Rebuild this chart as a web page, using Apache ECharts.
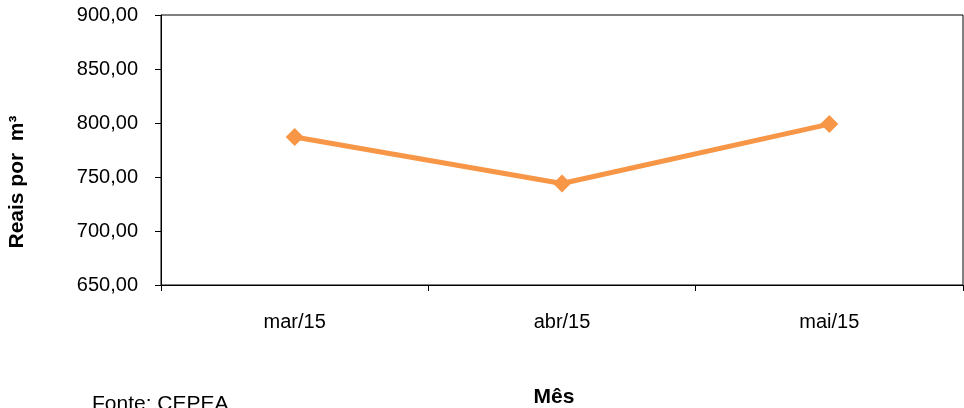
<!DOCTYPE html>
<html>
<head>
<meta charset="utf-8">
<script src="https://cdn.jsdelivr.net/npm/echarts@6/dist/echarts.min.js"></script>
<style>html,body{margin:0;padding:0;background:#fff}#c{width:964px;height:408px}</style>
</head>
<body>
<div id="c"></div>
<script>
const categories = ['mar/15', 'abr/15', 'mai/15'];
const values = [787, 744, 799];
const yTicks = [650, 700, 750, 800, 850, 900];

const FONT = '"Liberation Sans", Arial, sans-serif';
const chart = echarts.init(document.getElementById('c'), null, {renderer: 'canvas'});
chart.setOption({
  animation: false,
  backgroundColor: '#ffffff',
  grid: {left: 161, right: 1, top: 15, bottom: 123, show: true, borderColor: '#000', borderWidth: 1, backgroundColor: 'transparent'},
  xAxis: {
    type: 'category',
    data: categories,
    boundaryGap: true,
    axisLine: {lineStyle: {color: '#000', width: 1}},
    axisTick: {show: true, inside: false, length: 6, lineStyle: {color: '#000'}},
    axisLabel: {color: '#000', fontSize: 20, fontFamily: FONT, margin: 27},
    splitLine: {show: false}
  },
  yAxis: {
    type: 'value',
    min: yTicks[0],
    max: yTicks[yTicks.length - 1],
    interval: 50,
    axisLine: {show: true, lineStyle: {color: '#000', width: 1}},
    axisTick: {show: true, inside: false, length: 6, lineStyle: {color: '#000'}},
    axisLabel: {color: '#000', fontSize: 20, fontFamily: FONT, margin: 23,
      formatter: v => v.toFixed(2).replace('.', ',')},
    splitLine: {show: false}
  },
  graphic: [
    {type: 'text', x: 17, y: 182, rotation: Math.PI / 2,
     style: {text: 'Reais por  m³', font: 'bold 21px ' + FONT, fill: '#000', textAlign: 'center', textVerticalAlign: 'middle'}},
    {type: 'text', x: 554, y: 397,
     style: {text: 'Mês', font: 'bold 21px ' + FONT, fill: '#000', textAlign: 'center', textVerticalAlign: 'middle'}},
    {type: 'text', x: 92, y: 394,
     style: {text: 'Fonte: CEPEA', font: '21px ' + FONT, fill: '#000', textAlign: 'left', textVerticalAlign: 'top'}}
  ],
  series: [{
    type: 'line',
    data: values,
    symbol: 'diamond',
    symbolSize: 18,
    lineStyle: {color: '#F79646', width: 5},
    itemStyle: {color: '#F79646'}
  }]
});
</script>
</body>
</html>
